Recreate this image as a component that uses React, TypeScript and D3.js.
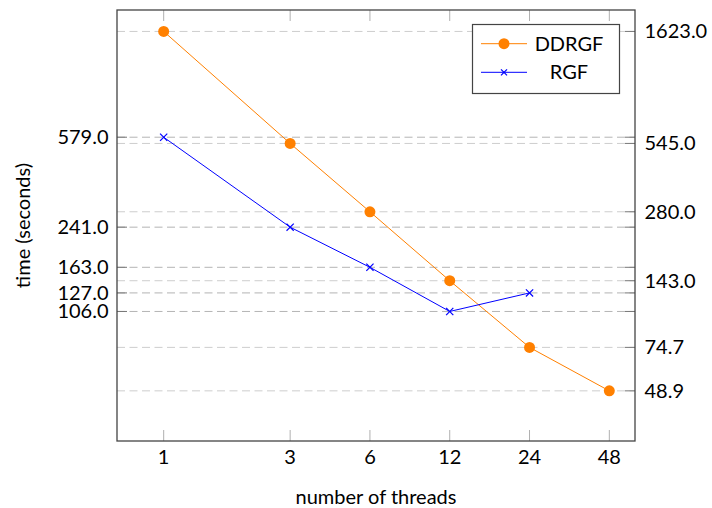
import React from 'react';
import * as d3 from 'd3';

const WIDTH = 712;
const HEIGHT = 508;

const PLOT = { left: 117, right: 635, top: 10, bottom: 441 };

// number of threads
const threads = [1, 3, 6, 12, 24, 48];

// time (seconds)
const ddrgf = [1623.0, 545.0, 280.0, 143.0, 74.7, 48.9];
const rgf = [579.0, 241.0, 163.0, 106.0, 127.0];

// left axis shows RGF values, right axis shows DDRGF values
const leftTicks = [579.0, 241.0, 163.0, 127.0, 106.0];
const rightTicks = [1623.0, 545.0, 280.0, 143.0, 74.7, 48.9];

const ORANGE = '#ff8000';
const BLUE = '#0000ff';
const FONT = 'Lato, "DejaVu Sans", sans-serif';

const x = d3.scaleLog().base(2)
  .domain([2 / 3, 60])
  .range([PLOT.left, PLOT.right]);

const y = d3.scaleLog()
  .domain([30, 2000])
  .range([PLOT.bottom, PLOT.top]);

const line = d3.line<[number, number]>()
  .x(d => x(d[0]))
  .y(d => y(d[1]));

const Cross = ({ cx, cy, s = 3.6 }: { cx: number; cy: number; s?: number }) => (
  <g stroke={BLUE} strokeWidth={1.2}>
    <line x1={cx - s} y1={cy - s} x2={cx + s} y2={cy + s} />
    <line x1={cx - s} y1={cy + s} x2={cx + s} y2={cy - s} />
  </g>
);

export default function App() {
  const ddrgfPts = threads.map((t, i) => [t, ddrgf[i]] as [number, number]);
  const rgfPts = rgf.map((v, i) => [threads[i], v] as [number, number]);

  return (
    <svg
      width={WIDTH}
      height={HEIGHT}
      viewBox={`0 0 ${WIDTH} ${HEIGHT}`}
      style={{ position: 'absolute', left: 0, top: 0, background: '#fff' }}
      fontFamily={FONT}
    >
      {/* grid lines */}
      {rightTicks.map(v => (
        <line key={'gr' + v} x1={PLOT.left} x2={PLOT.right} y1={y(v)} y2={y(v)}
          stroke="#cdcdcd" strokeWidth={1} strokeDasharray="8,4.5" />
      ))}
      {leftTicks.map(v => (
        <line key={'gl' + v} x1={PLOT.left} x2={PLOT.right} y1={y(v)} y2={y(v)}
          stroke="#b4b4b4" strokeWidth={1} strokeDasharray="8,4.5" />
      ))}

      {/* x ticks, bottom and top */}
      {threads.map(t => (
        <g key={'xt' + t} stroke="#b0b0b0" strokeWidth={1}>
          <line x1={x(t)} x2={x(t)} y1={PLOT.bottom} y2={PLOT.bottom - 11} />
          <line x1={x(t)} x2={x(t)} y1={PLOT.top} y2={PLOT.top + 11} />
        </g>
      ))}

      {/* y ticks */}
      {leftTicks.map(v => (
        <g key={'ylt' + v} stroke="#777" strokeWidth={1}>
          <line x1={PLOT.left} x2={PLOT.left + 10} y1={y(v)} y2={y(v)} />
          <line x1={PLOT.right - 10} x2={PLOT.right} y1={y(v)} y2={y(v)} />
        </g>
      ))}
      {rightTicks.map(v => (
        <line key={'yrt' + v} x1={PLOT.right - 10} x2={PLOT.right} y1={y(v)} y2={y(v)}
          stroke="#777" strokeWidth={1} />
      ))}

      {/* series */}
      <path d={line(ddrgfPts) ?? ''} fill="none" stroke={ORANGE} strokeWidth={1} />
      <path d={line(rgfPts) ?? ''} fill="none" stroke={BLUE} strokeWidth={1} />
      {ddrgfPts.map(([t, v]) => (
        <circle key={'c' + t} cx={x(t)} cy={y(v)} r={5.5} fill={ORANGE} />
      ))}
      {rgfPts.map(([t, v]) => (
        <Cross key={'x' + t} cx={x(t)} cy={y(v)} />
      ))}

      {/* frame */}
      <rect x={PLOT.left} y={PLOT.top} width={PLOT.right - PLOT.left} height={PLOT.bottom - PLOT.top}
        fill="none" stroke="#444" strokeWidth={1.3} />

      {/* tick labels */}
      {leftTicks.map(v => (
        <text key={'yl' + v} x={PLOT.left - 8.5} y={y(v) + 7} textAnchor="end" fontSize={20}>
          {v.toFixed(1)}
        </text>
      ))}
      {rightTicks.map(v => (
        <text key={'yr' + v} x={PLOT.right + 9.5} y={y(v) + 7} textAnchor="start" fontSize={20}>
          {v.toFixed(1)}
        </text>
      ))}
      {threads.map(t => (
        <text key={'xl' + t} x={x(t)} y={464} textAnchor="middle" fontSize={20}>
          {t}
        </text>
      ))}

      {/* axis labels */}
      <text x={(PLOT.left + PLOT.right) / 2} y={504} textAnchor="middle" fontSize={20}>
        number of threads
      </text>
      <text transform={`translate(30, ${(PLOT.top + PLOT.bottom) / 2}) rotate(-90)`}
        textAnchor="middle" fontSize={20}>
        time (seconds)
      </text>

      {/* legend */}
      <g>
        <rect x={472.5} y={24.5} width={147} height={69} fill="#fff" stroke="#444" strokeWidth={1.2} />
        <line x1={481} x2={527} y1={43.7} y2={43.7} stroke={ORANGE} strokeWidth={1} />
        <circle cx={504} cy={43.7} r={5.5} fill={ORANGE} />
        <text x={569} y={50.7} textAnchor="middle" fontSize={20}>DDRGF</text>
        <line x1={481} x2={527} y1={72.3} y2={72.3} stroke={BLUE} strokeWidth={1} />
        <Cross cx={504} cy={72.3} s={3} />
        <text x={569} y={79.3} textAnchor="middle" fontSize={20}>RGF</text>
      </g>
    </svg>
  );
}
